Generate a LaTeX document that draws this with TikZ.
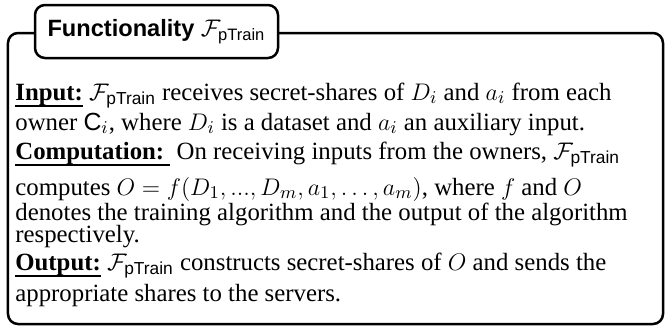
\documentclass[tikz,border=0pt]{standalone}
\usepackage{amsmath}
\usepackage[no-math]{fontspec}
\setmainfont{Liberation Serif}
\setsansfont{Liberation Sans}
\newfontfamily\titlefont{Liberation Sans}
\newcommand{\Fptr}{\mathcal{F}_{\text{\sffamily pTrain}}}
\newcommand{\ulab}[1]{\setbox0\hbox{#1}\rlap{\vrule height -2.5pt depth 3.25pt width \wd0}\box0\relax}
\begin{document}
\begin{tikzpicture}[x=0.5pt,y=-0.5pt,
  frame/.style={line width=1.25pt, rounded corners=5pt},
  titlebox/.style={draw, line width=1.25pt, rounded corners=5pt, fill=white,
    minimum width=121.5pt, minimum height=26.5pt, inner sep=0pt,
    font=\titlefont\fontsize{11.8}{14}\selectfont},
  bodyline/.style={anchor=base west, inner sep=0pt, font=\fontsize{12.4}{15}\selectfont}]
\useasboundingbox (0,0) rectangle (666,328);
\draw[frame] (8,33) rectangle (663,324);
\node[titlebox] (title) at (156.5,31.5) {\textbf{Functionality} $\Fptr$};
\node[bodyline] (l1) at (15,100) {\ulab{\textbf{Input:}} $\Fptr$ receives secret-shares of $D_i$ and $a_i$ from each};
\node[bodyline] (l2) at (15,130) {owner $\text{\sffamily C}_i$, where $D_i$ is a dataset and $a_i$ an auxiliary input.};
\node[bodyline] (l3) at (15,159) {\ulab{\textbf{Computation:}\ } On receiving inputs from the owners, $\Fptr$};
\node[bodyline] (l4) at (15,195) {computes $O=f(D_1,...,D_m,a_1,\ldots,a_m)$, where $f$ and $O$};
\node[bodyline] (l5) at (15,220) {denotes the training algorithm and the output of the algorithm};
\node[bodyline] (l6) at (15,242) {respectively.};
\node[bodyline] (l7) at (15,270) {\ulab{\textbf{Output:}} $\Fptr$ constructs secret-shares of $O$ and sends the};
\node[bodyline] (l8) at (15,301) {appropriate shares to the servers.};
\end{tikzpicture}
\end{document}
